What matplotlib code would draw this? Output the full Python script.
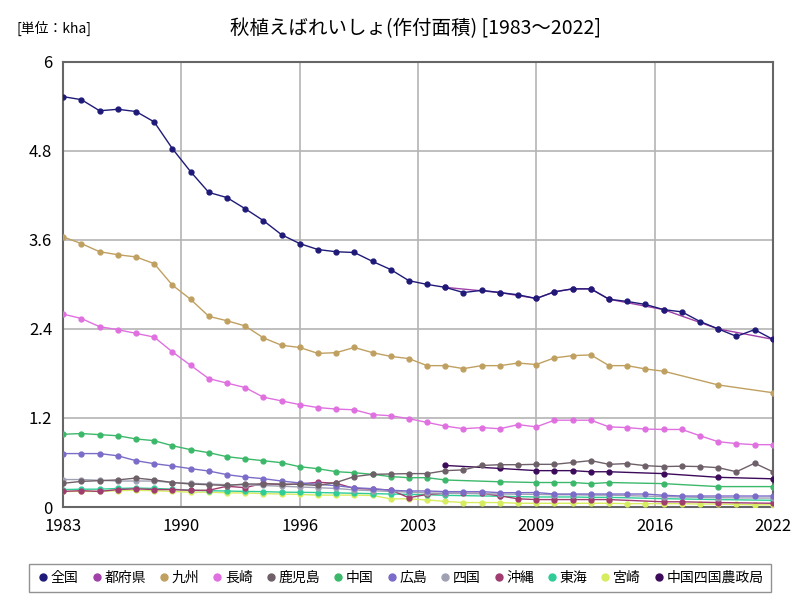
import matplotlib
matplotlib.use('Agg')
import matplotlib.pyplot as plt
from matplotlib.lines import Line2D

plt.rcParams['font.family'] = ['Noto Sans CJK JP', 'DejaVu Sans']

# years
years_all = list(range(1983, 2023))
years_kyushu = list(range(1983, 2017)) + [2019, 2022]
years_region = list(range(1983, 2005)) + [2007, 2009, 2010, 2011, 2012, 2013, 2016, 2019, 2022]
years_okinawa = list(range(1983, 2014)) + [2016, 2017, 2019, 2022]
years_bureau = [2004, 2007, 2009, 2010, 2011, 2012, 2013, 2016, 2019, 2022]

# values (kha)
zenkoku = [5.53, 5.49, 5.34, 5.36, 5.33, 5.19, 4.83, 4.52, 4.24, 4.17,
           4.02, 3.86, 3.67, 3.55, 3.47, 3.44, 3.43, 3.31, 3.20, 3.05,
           3.00, 2.96, 2.89, 2.92, 2.89, 2.86, 2.81, 2.90, 2.94, 2.94,
           2.80, 2.77, 2.73, 2.66, 2.63, 2.50, 2.40, 2.30, 2.39, 2.26]
todofuken = [2.96, 2.89, 2.81, 2.90, 2.94, 2.94, 2.80, 2.66, 2.40, 2.26]
kyushu = [3.64, 3.55, 3.44, 3.40, 3.37, 3.28, 2.99, 2.80, 2.57, 2.51,
          2.44, 2.28, 2.18, 2.15, 2.07, 2.08, 2.15, 2.08, 2.03, 2.00,
          1.905, 1.905, 1.865, 1.905, 1.905, 1.94, 1.92, 2.01, 2.04, 2.05,
          1.905, 1.905, 1.86, 1.83, 1.645, 1.54]
nagasaki = [2.60, 2.54, 2.43, 2.39, 2.34, 2.29, 2.09, 1.91, 1.73, 1.67,
            1.61, 1.48, 1.43, 1.38, 1.34, 1.32, 1.31, 1.245, 1.23, 1.19,
            1.14, 1.09, 1.055, 1.07, 1.055, 1.11, 1.08, 1.17, 1.17, 1.17,
            1.08, 1.07, 1.05, 1.045, 1.045, 0.96, 0.88, 0.855, 0.84, 0.84]
kagoshima = [0.32, 0.345, 0.355, 0.365, 0.39, 0.365, 0.33, 0.31, 0.30, 0.29,
             0.31, 0.31, 0.31, 0.305, 0.29, 0.33, 0.41, 0.44, 0.445, 0.45,
             0.45, 0.49, 0.50, 0.56, 0.57, 0.57, 0.575, 0.575, 0.60, 0.625,
             0.575, 0.585, 0.557, 0.545, 0.55, 0.545, 0.53, 0.475, 0.59, 0.475]
chugoku = [0.98, 0.99, 0.975, 0.96, 0.917, 0.894, 0.826, 0.773, 0.732, 0.678,
           0.65, 0.624, 0.597, 0.543, 0.516, 0.476, 0.462, 0.44, 0.41, 0.395,
           0.395, 0.364, 0.34, 0.33, 0.33, 0.33, 0.315, 0.33, 0.315, 0.275, 0.275]
hiroshima = [0.72, 0.72, 0.72, 0.69, 0.624, 0.584, 0.553, 0.517, 0.485, 0.436,
             0.404, 0.382, 0.35, 0.324, 0.306, 0.287, 0.26, 0.247, 0.225, 0.216,
             0.216, 0.207, 0.207, 0.207, 0.193, 0.193, 0.195, 0.175, 0.175, 0.175,
             0.175, 0.175, 0.175, 0.158, 0.148, 0.148, 0.148, 0.148, 0.148, 0.148]
shikoku = [0.37, 0.37, 0.36, 0.35, 0.35, 0.35, 0.33, 0.32, 0.31, 0.30,
           0.30, 0.29, 0.28, 0.27, 0.26, 0.25, 0.23, 0.22, 0.21, 0.20,
           0.19, 0.185, 0.175, 0.17, 0.165, 0.165, 0.16, 0.16, 0.14, 0.125, 0.12]
okinawa = [0.21, 0.22, 0.21, 0.235, 0.245, 0.235, 0.235, 0.225, 0.225, 0.28,
           0.26, 0.32, 0.30, 0.31, 0.333, 0.32, 0.25, 0.24, 0.23, 0.125,
           0.17, 0.185, 0.185, 0.185, 0.15, 0.11, 0.10, 0.10, 0.10, 0.10,
           0.10, 0.07, 0.07, 0.06, 0.05]
tokai = [0.235, 0.24, 0.24, 0.25, 0.256, 0.25, 0.24, 0.225, 0.22, 0.215,
         0.21, 0.207, 0.20, 0.198, 0.195, 0.19, 0.185, 0.18, 0.175, 0.17,
         0.165, 0.157, 0.145, 0.135, 0.135, 0.135, 0.13, 0.13, 0.112, 0.10, 0.09]
miyazaki = [0.21, 0.21, 0.21, 0.22, 0.225, 0.22, 0.21, 0.20, 0.20, 0.19,
            0.19, 0.18, 0.175, 0.17, 0.16, 0.16, 0.16, 0.155, 0.11, 0.11,
            0.095, 0.075, 0.06, 0.06, 0.06, 0.05, 0.05, 0.05, 0.05, 0.05,
            0.05, 0.045, 0.045, 0.045, 0.045, 0.04, 0.04, 0.035, 0.03, 0.03]
bureau = [0.56, 0.52, 0.49, 0.49, 0.49, 0.475, 0.475, 0.45, 0.40, 0.38]

series = [
    ('全国', years_all, zenkoku, '#1f1a78'),
    ('都府県', years_bureau, todofuken, '#a040a8'),
    ('九州', years_kyushu, kyushu, '#c0a060'),
    ('長崎', years_all, nagasaki, '#e070e0'),
    ('鹿児島', years_all, kagoshima, '#6e6068'),
    ('中国', years_region, chugoku, '#3cb86a'),
    ('広島', years_all, hiroshima, '#7a6cc8'),
    ('四国', years_region, shikoku, '#a0a0b4'),
    ('沖縄', years_okinawa, okinawa, '#a03c70'),
    ('東海', years_region, tokai, '#30cc98'),
    ('宮崎', years_all, miyazaki, '#d8ec60'),
    ('中国四国農政局', years_bureau, bureau, '#3c0a5a'),
]

fig = plt.figure(figsize=(8, 6), dpi=100)
ax = fig.add_axes([0.079, 0.155, 0.887, 0.742])

handles = []
for i, (name, yrs, vals, col) in enumerate(series):
    ax.plot(yrs, vals, color=col, lw=1, marker='o', ms=3.5, zorder=20 - i)
    handles.append(Line2D([], [], color=col, marker='o', ls='none', ms=5))

ax.set_xlim(1983, 2022)
ax.set_ylim(0, 6)
xt = [1983 + 6.5 * k for k in range(7)]
ax.set_xticks(xt)
ax.set_xticklabels(['1983', '1990', '1996', '2003', '2009', '2016', '2022'], fontsize=12)
ax.set_yticks([0, 1.2, 2.4, 3.6, 4.8, 6])
ax.set_yticklabels(['0', '1.2', '2.4', '3.6', '4.8', '6'], fontsize=12)
ax.grid(True, color='#b4b4b4', lw=1.2)
ax.set_axisbelow(True)
ax.tick_params(length=0, pad=8)
for s in ax.spines.values():
    s.set_color('#666666')
    s.set_linewidth(1.5)

fig.text(0.52, 0.953, '秋植えばれいしょ(作付面積) [1983〜2022]', ha='center', va='center', fontsize=14)
fig.text(0.02, 0.953, '[単位：kha]', ha='left', va='center', fontsize=10)

ax.legend(handles, [s[0] for s in series], loc='center', bbox_to_anchor=(0.5, 0.037),
          bbox_transform=fig.transFigure, ncol=12, fontsize=10, handletextpad=0.05,
          columnspacing=0.8, frameon=True, fancybox=False, edgecolor='#777777',
          borderpad=0.5, handlelength=1)

fig.savefig('out.png', dpi=100)
